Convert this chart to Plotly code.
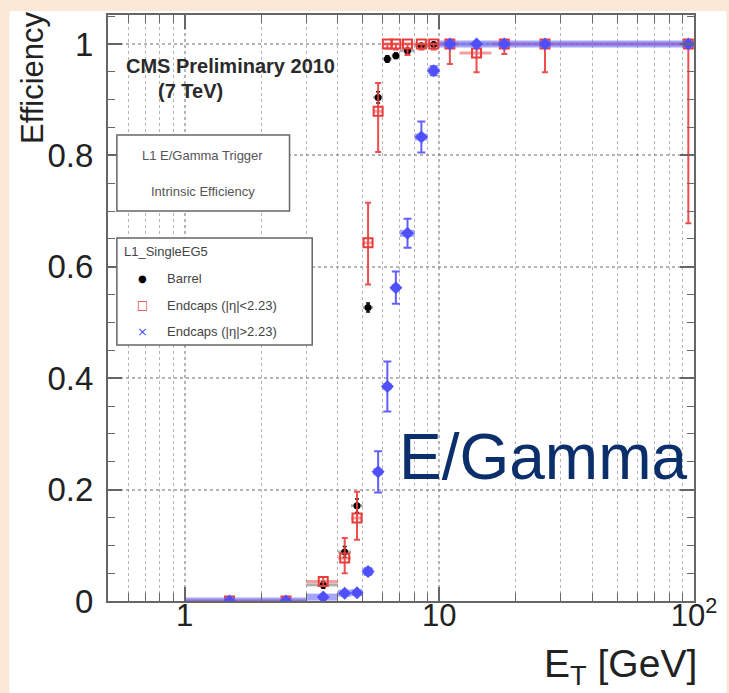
import plotly.graph_objects as go

# ---------------- data ----------------
et_bins = [1.5, 2.5, 3.5, 4.25, 4.75, 5.25, 5.75, 6.25, 6.75, 7.5, 8.5, 9.5, 11, 14, 18, 26, 95]
bin_lo = [0.5, 0.5, 0.5, 0.25, 0.25, 0.25, 0.25, 0.25, 0.25, 0.5, 0.5, 0.5, 1, 2, 2, 6, 63]
bin_hi = [0.5, 0.5, 0.5, 0.25, 0.25, 0.25, 0.25, 0.25, 0.25, 0.5, 0.5, 0.5, 1, 2, 2, 6, 5]

barrel_eff = [0, 0, 0.029, 0.088, 0.171, 0.527, 0.904, 0.973, 0.979, 0.988, 0.997, 0.999, 1, 1, 1, 1, 1]
barrel_err = [0, 0, 0.006, 0.010, 0.012, 0.008, 0.010, 0.006, 0.005, 0.004, 0.003, 0.002, 0, 0, 0, 0, 0]

endcap_eff = [0, 0, 0.035, 0.077, 0.149, 0.643, 0.879, 1, 1, 1, 1, 1, 1, 0.984, 1, 1, 1]
endcap_err_up = [0, 0, 0.008, 0.036, 0.047, 0.072, 0.051, 0, 0, 0, 0, 0, 0, 0.014, 0, 0, 0]
endcap_err_dn = [0, 0, 0.008, 0.027, 0.039, 0.075, 0.073, 0.008, 0.01, 0.02, 0.01, 0.01, 0.036, 0.035, 0.018, 0.051, 0.322]

fwd_eff = [0, 0, 0.007, 0.014, 0.015, 0.053, 0.232, 0.385, 0.5625, 0.66, 0.833, 0.952, 1, 1, 1, 1, 1]
fwd_err = [0, 0, 0.003, 0.003, 0.003, 0.006, 0.037, 0.045, 0.029, 0.026, 0.028, 0.008, 0, 0, 0, 0, 0]

y_ticks = [0, 0.2, 0.4, 0.6, 0.8, 1]
y_ticklabels = ["0", "0.2", "0.4", "0.6", "0.8", "1"]
x_ticks = [1, 10, 100]
x_ticklabels = ["1", "10", "10<sup>2</sup>"]
x_minor = [0.6, 0.7, 0.8, 0.9, 2, 3, 4, 5, 6, 7, 8, 9, 20, 30, 40, 50, 60, 70, 80, 90]

# ---------------- layout helpers (pixel -> paper) ----------------
W, H = 729, 693
L, R, T, B = 108, 702, 15, 601


def px(x):
    return (x - L) / (R - L)


def py(y):
    return (B - y) / (B - T)


fig = go.Figure()

fig.add_trace(go.Scatter(
    x=et_bins, y=barrel_eff, mode="markers", name="Barrel",
    marker=dict(symbol="circle", size=7, color="black"),
    error_x=dict(type="data", symmetric=False, array=bin_hi, arrayminus=bin_lo,
                 color="rgba(110,110,110,0.55)", thickness=3, width=0),
    error_y=dict(type="data", array=barrel_err, color="black", thickness=1.5, width=2),
    showlegend=False,
))

fig.add_trace(go.Scatter(
    x=et_bins, y=endcap_eff, mode="markers", name="Endcaps (|η|<2.23)",
    marker=dict(symbol="square-open", size=9, color="rgb(235,60,60)", line=dict(width=2)),
    error_x=dict(type="data", symmetric=False, array=bin_hi, arrayminus=bin_lo,
                 color="rgba(235,80,80,0.55)", thickness=3, width=0),
    error_y=dict(type="data", symmetric=False, array=endcap_err_up, arrayminus=endcap_err_dn,
                 color="rgba(235,60,60,0.9)", thickness=2, width=3),
    showlegend=False,
))

fig.add_trace(go.Scatter(
    x=et_bins, y=fwd_eff, mode="markers", name="Endcaps (|η|>2.23)",
    marker=dict(symbol="diamond", size=10, color="rgb(80,80,250)"),
    error_x=dict(type="data", symmetric=False, array=bin_hi, arrayminus=bin_lo,
                 color="rgba(110,110,255,0.62)", thickness=7, width=0),
    error_y=dict(type="data", array=fwd_err, color="rgba(80,80,250,0.9)", thickness=2, width=4),
    showlegend=False,
))

grid_col = "rgba(120,120,120,0.55)"
axis_col = "#666666"

fig.update_xaxes(
    type="log", range=[-0.30103, 2.0],
    tickvals=x_ticks, ticktext=x_ticklabels,
    ticks="inside", ticklen=14, tickwidth=1.5, tickcolor=axis_col,
    showline=True, linecolor=axis_col, linewidth=2, mirror="ticks",
    showgrid=True, gridcolor=grid_col, griddash="dot", gridwidth=1.5,
    tickfont=dict(family="Liberation Sans, Arial", size=31, color="#222"),
    minor=dict(tickvals=x_minor, ticks="inside", ticklen=8, tickwidth=1.2,
               tickcolor=axis_col, showgrid=True, gridcolor=grid_col,
               griddash="dot", gridwidth=1.2),
    zeroline=False, ticklabelstandoff=-14,
)
fig.update_yaxes(
    range=[0, 1.052],
    tickvals=y_ticks, ticktext=y_ticklabels,
    ticks="inside", ticklen=14, tickwidth=1.5, tickcolor=axis_col,
    showline=True, linecolor=axis_col, linewidth=2, mirror="ticks",
    showgrid=True, gridcolor=grid_col, griddash="dot", gridwidth=1.5,
    tickfont=dict(family="Liberation Sans, Arial", size=33, color="#222"),
    minor=dict(dtick=0.05, ticks="inside", ticklen=7, tickwidth=1.2,
               tickcolor=axis_col, showgrid=False),
    zeroline=False, ticklabelstandoff=6,
)

shapes = [
    # white panel on the peach page
    dict(type="rect", xref="paper", yref="paper", x0=px(8), x1=px(735), y0=py(700), y1=py(11),
         fillcolor="white", line=dict(width=0), layer="below"),
    # info box
    dict(type="rect", xref="paper", yref="paper", x0=px(117), x1=px(292), y0=py(211), y1=py(135),
         fillcolor="white", line=dict(color="#666", width=1.5), layer="above"),
    # legend box
    dict(type="rect", xref="paper", yref="paper", x0=px(117), x1=px(315), y0=py(345), y1=py(238),
         fillcolor="white", line=dict(color="#666", width=1.5), layer="above"),
]

ann = []


def text(x, y, s, size, color="#333", xanchor="center", yanchor="middle", bold=False,
         family="Liberation Sans, Arial", angle=0):
    ann.append(dict(x=px(x), y=py(y), xref="paper", yref="paper", text=f"<b>{s}</b>" if bold else s,
                    showarrow=False, xanchor=xanchor, yanchor=yanchor, textangle=angle,
                    font=dict(family=family, size=size, color=color)))


text(232, 66, "CMS Preliminary 2010", 20, color="#2a2a2a", bold=True)
text(192, 91, "(7 TeV)", 20, color="#2a2a2a", bold=True)
text(204, 155, "L1 E/Gamma Trigger", 13, color="#555")
text(204, 191, "Intrinsic Efficiency", 13, color="#555")
text(122, 251, "L1_SingleEG5", 13, color="#444", xanchor="left")
text(166, 278, "Barrel", 13, color="#444", xanchor="left")
text(166, 305, "Endcaps (|η|<2.23)", 13, color="#444", xanchor="left")
text(166, 332, "Endcaps (|η|>2.23)", 13, color="#444", xanchor="left")
text(143, 278, "●", 10, color="black", family="DejaVu Sans")
text(143, 305, "□", 12, color="rgb(235,60,60)", family="DejaVu Sans")
text(143, 332, "×", 13, color="rgb(80,80,250)", family="DejaVu Sans")
text(549, 457, "E/Gamma", 64, color="#0b2f6b")
text(31, 78, "Efficiency", 31, color="#222", angle=-90)
text(707, 667, "E<sub>T</sub> [GeV]", 39, color="#222", xanchor="right")

fig.update_layout(
    width=W, height=H,
    margin=dict(l=L, r=W - R, t=T, b=H - B, pad=0),
    paper_bgcolor="#fbe8d6",
    plot_bgcolor="rgba(0,0,0,0)",
    shapes=shapes, annotations=ann,
    showlegend=False,
)

fig.write_html("out.html")
